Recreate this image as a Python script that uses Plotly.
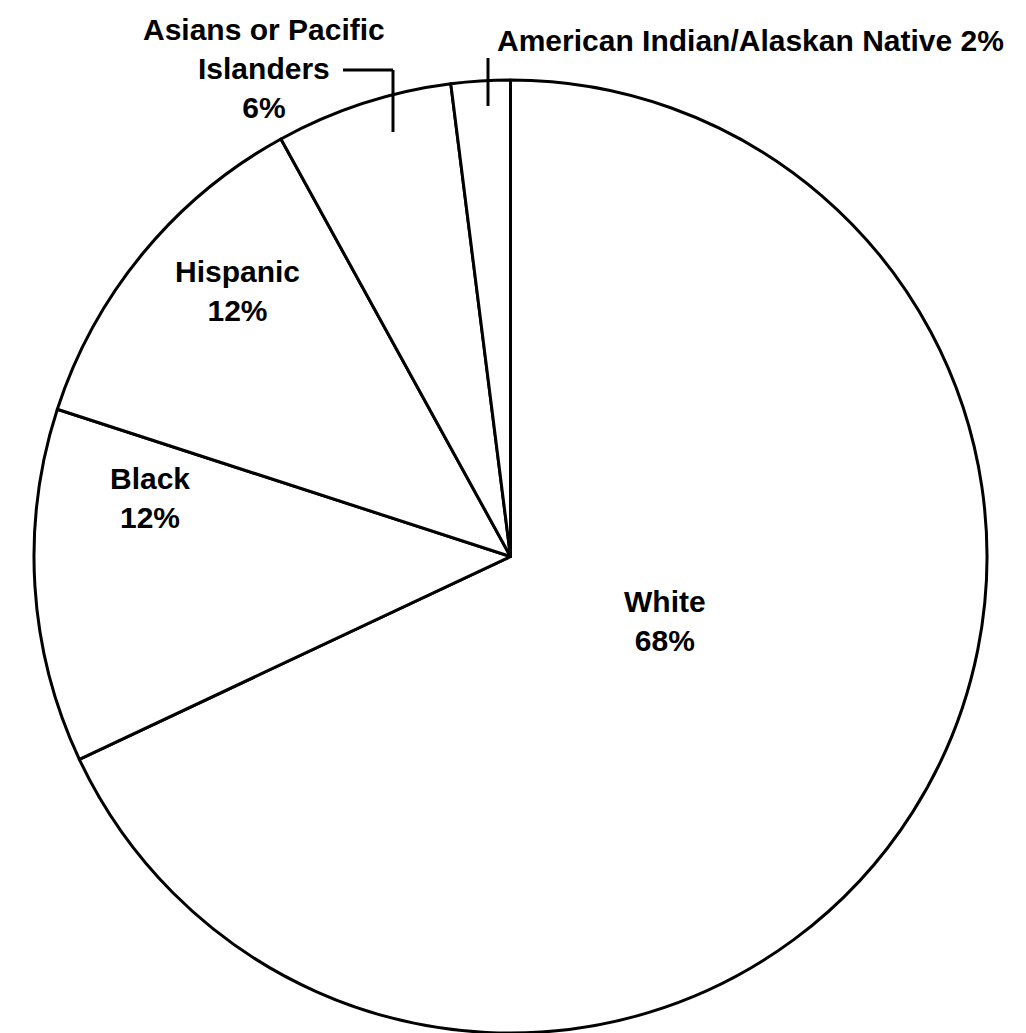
import plotly.graph_objects as go

W, H = 1026, 1033

# Data
categories = ["White", "Black", "Hispanic", "Asians or Pacific Islanders", "American Indian/Alaskan Native"]
values = [68, 12, 12, 6, 2]
label_lines = [
    ["White"],
    ["Black"],
    ["Hispanic"],
    ["Asians or Pacific", "Islanders"],
    ["American Indian/Alaskan Native"],
]

# Label placement (pixel centres) -- styling only
label_pos = [(665, 621), (150, 498), (237, 291), (264, 68), (750, 40)]
label_inline = [False, False, False, False, True]

def px(x):
    return x / W

def py(y):
    return 1 - y / H

fig = go.Figure(go.Pie(
    labels=categories,
    values=values,
    sort=False,
    direction="clockwise",
    rotation=0,
    textinfo="none",
    hoverinfo="label+percent",
    marker=dict(colors=["white"] * len(values), line=dict(color="black", width=3)),
    domain=dict(x=[px(18), px(1003)], y=[py(1033), py(80)]),
    showlegend=False,
))

font = dict(family="Liberation Sans, Arial, sans-serif", size=30, color="black")
annotations = []
for lines, v, (cx, cy), inline in zip(label_lines, values, label_pos, label_inline):
    if inline:
        text = "<b>" + lines[0] + f" {v}%</b>"
    else:
        text = "<b>" + "<br>".join(lines + [f"{v}%"]) + "</b>"
    annotations.append(dict(
        x=px(cx), y=py(cy), xref="paper", yref="paper",
        text=text, showarrow=False, font=font, align="center",
        xanchor="center", yanchor="middle",
    ))

shapes = [
    # Asians leader line
    dict(type="line", xref="paper", yref="paper", x0=px(343), y0=py(70), x1=px(393), y1=py(70),
         line=dict(color="black", width=3)),
    dict(type="line", xref="paper", yref="paper", x0=px(393), y0=py(70), x1=px(393), y1=py(132),
         line=dict(color="black", width=3)),
    # American Indian leader line
    dict(type="line", xref="paper", yref="paper", x0=px(488), y0=py(58), x1=px(488), y1=py(106),
         line=dict(color="black", width=3)),
]

fig.update_layout(
    width=W, height=H,
    margin=dict(l=0, r=0, t=0, b=0),
    paper_bgcolor="white", plot_bgcolor="white",
    annotations=annotations, shapes=shapes,
)

fig.write_html("out.html")
